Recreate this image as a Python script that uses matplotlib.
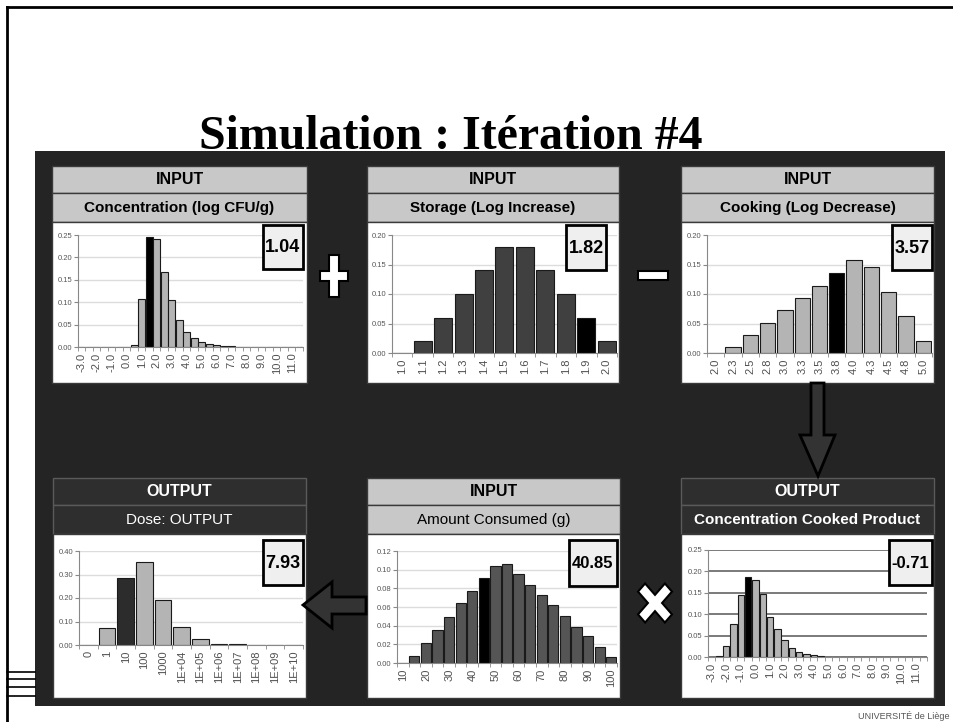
import matplotlib
matplotlib.use('Agg')
import matplotlib.pyplot as plt
from matplotlib.patches import Rectangle, Polygon
from matplotlib.ticker import FormatStrFormatter
import numpy as np

W, H = 954, 722

# histogram of each variable (probability per bin, bins labelled by upper bound)
conc_labels = ['-3.0', '-2.5', '-2.0', '-1.5', '-1.0', '-0.5', '0.0', '0.5', '1.0', '1.5',
               '2.0', '2.5', '3.0', '3.5', '4.0', '4.5', '5.0', '5.5', '6.0', '6.5',
               '7.0', '7.5', '8.0', '8.5', '9.0', '9.5', '10.0', '10.5', '11.0', '11.5']
conc_probs = [0, 0, 0, 0, 0, 0, 0, 0.005, 0.108, 0.245,
              0.240, 0.168, 0.104, 0.060, 0.034, 0.021, 0.011, 0.007, 0.004, 0.002,
              0.0015, 0.0005, 0, 0, 0, 0, 0, 0, 0, 0]

storage_labels = ['1.0', '1.1', '1.2', '1.3', '1.4', '1.5', '1.6', '1.7', '1.8', '1.9', '2.0']
storage_probs = [0, 0.02, 0.06, 0.10, 0.14, 0.18, 0.18, 0.14, 0.10, 0.06, 0.02]

cooking_labels = ['2.0', '2.3', '2.5', '2.8', '3.0', '3.3', '3.5', '3.8', '4.0', '4.3',
                  '4.5', '4.8', '5.0']
cooking_probs = [0, 0.010, 0.030, 0.051, 0.073, 0.094, 0.114, 0.136, 0.157, 0.146,
                 0.104, 0.062, 0.021]

dose_labels = ['0', '1', '10', '100', '1000', '1E+04', '1E+05', '1E+06', '1E+07',
               '1E+08', '1E+09', '1E+10']
dose_probs = [0, 0.071, 0.286, 0.353, 0.191, 0.076, 0.026, 0.006, 0.004, 0.001, 0.0005, 0.0003]

amount_labels = ['10', '15', '20', '25', '30', '35', '40', '45', '50', '55', '60', '65',
                 '70', '75', '80', '85', '90', '95', '100']
amount_probs = [0, 0.0075, 0.0215, 0.035, 0.049, 0.064, 0.077, 0.091, 0.104, 0.106,
                0.095, 0.084, 0.073, 0.062, 0.050, 0.039, 0.029, 0.017, 0.0065]

cooked_labels = conc_labels
cooked_probs = [0, 0.002, 0.025, 0.078, 0.145, 0.1875, 0.180, 0.148, 0.094, 0.065,
                0.039, 0.021, 0.012, 0.007, 0.004, 0.002, 0.001, 0, 0, 0,
                0, 0, 0, 0, 0, 0, 0, 0, 0, 0]

# values drawn at iteration 4 and the bin they fall in
iter_values = ['1.04', '1.82', '3.57', '7.93', '40.85', '-0.71']
iter_bins = [9, 9, 7, 2, 7, 5]

SANS = ['Liberation Sans', 'DejaVu Sans']

panels = [
    dict(x=(52, 307), y=166, kind='INPUT', sub='Concentration (log CFU/g)', subw='bold',
         labels=conc_labels, probs=conc_probs, step=2, ax=(78, 235, 303, 347),
         vbox=(263, 225, 303, 269), ymax=0.25, ystep=0.05, col='#b4b4b4', hi='black',
         grid='#dcdcdc'),
    dict(x=(367, 619), y=166, kind='INPUT', sub='Storage (Log Increase)', subw='bold',
         labels=storage_labels, probs=storage_probs, step=1, ax=(392, 235, 617, 353),
         vbox=(566, 225, 606, 270), ymax=0.20, ystep=0.05, col='#404040', hi='black',
         grid='#dcdcdc'),
    dict(x=(681, 934), y=166, kind='INPUT', sub='Cooking (Log Decrease)', subw='bold',
         labels=cooking_labels, probs=cooking_probs, step=1, ax=(707, 235, 932, 353),
         vbox=(892, 225, 932, 270), ymax=0.20, ystep=0.05, col='#b4b4b4', hi='black',
         grid='#dcdcdc'),
    dict(x=(53, 306), y=478, kind='OUTPUT', sub='Dose: OUTPUT', subw='normal',
         labels=dose_labels, probs=dose_probs, step=1, ax=(79, 551, 303, 645),
         vbox=(263, 540, 303, 585), ymax=0.40, ystep=0.10, col='#b4b4b4', hi='#2c2c2c',
         grid='#dcdcdc'),
    dict(x=(367, 620), y=478, kind='INPUT', sub='Amount Consumed (g)', subw='normal',
         labels=amount_labels, probs=amount_probs, step=2, ax=(397, 551, 617, 663),
         vbox=(569, 540, 617, 586), ymax=0.12, ystep=0.02, col='#555555', hi='black',
         grid='#dcdcdc'),
    dict(x=(681, 934), y=478, kind='OUTPUT', sub='Concentration Cooked Product', subw='bold',
         labels=cooked_labels, probs=cooked_probs, step=2, ax=(708, 550, 927, 657),
         vbox=(889, 540, 932, 585), ymax=0.25, ystep=0.05, col='#b4b4b4', hi='black',
         grid='#707070'),
]


def fig_box(x0, y0, x1, y1):
    return [x0 / W, 1 - y1 / H, (x1 - x0) / W, (y1 - y0) / H]


fig = plt.figure(figsize=(W / 100, H / 100), dpi=100)

bg = fig.add_axes([0, 0, 1, 1], zorder=0)
bg.set_xlim(0, W)
bg.set_ylim(H, 0)
bg.axis('off')

# slide frame
bg.plot([7, 7], [7, H], color='black', lw=2)
bg.plot([7, W], [7, 7], color='black', lw=2)
for yy in (672, 679, 687, 696):
    bg.plot([7, 35], [yy, yy], color='black', lw=1.2)

bg.text(451, 149, 'Simulation : Itération #4', ha='center', va='baseline',
        fontsize=34.5, fontweight='bold', family='Liberation Serif')
bg.text(950, 721, 'UNIVERSITÉ de Liège', ha='right', va='bottom', fontsize=6.5,
        color='#555555', family='Liberation Sans')

bg.add_patch(Rectangle((35, 151), 910, 555, facecolor='#242424', edgecolor='none'))

for p in panels:
    x0, x1 = p['x']
    y0 = p['y']
    if p['kind'] == 'INPUT':
        fc, tc, ec = '#c8c8c8', 'black', '#3a3a3a'
    else:
        fc, tc, ec = '#2e2e2e', 'white', '#5a5a5a'
    bg.add_patch(Rectangle((x0, y0), x1 - x0, 27, facecolor=fc, edgecolor=ec, lw=1))
    bg.add_patch(Rectangle((x0, y0 + 27), x1 - x0, 29, facecolor=fc, edgecolor=ec, lw=1))
    bg.add_patch(Rectangle((x0, y0 + 56), x1 - x0, (383 if y0 < 300 else 698) - y0 - 56,
                           facecolor='white', edgecolor='#3a3a3a', lw=1))
    bg.text((x0 + x1) / 2, y0 + 14, p['kind'], ha='center', va='center', fontsize=11.5,
            fontweight='bold', color=tc, family=SANS)
    bg.text((x0 + x1) / 2, y0 + 42, p['sub'], ha='center', va='center', fontsize=11,
            fontweight=p['subw'], color=tc, family=SANS)

# bar charts
for p, hi_bin in zip(panels, iter_bins):
    ax = fig.add_axes(fig_box(*p['ax']), zorder=1)
    ax.patch.set_visible(False)
    n = len(p['probs'])
    x = np.arange(n)
    colors = [p['hi'] if i == hi_bin else p['col'] for i in range(n)]
    ax.bar(x, p['probs'], width=0.88, color=colors, edgecolor='#1a1a1a', linewidth=0.8)
    ax.set_xlim(-0.5, n - 0.5)
    ax.set_ylim(0, p['ymax'])
    ax.set_yticks(np.arange(0, p['ymax'] + 1e-9, p['ystep']))
    ax.yaxis.set_major_formatter(FormatStrFormatter('%.2f'))
    ax.set_xticks(x[::p['step']])
    ax.set_xticklabels(p['labels'][::p['step']], rotation=90)
    ax.set_xticks(np.arange(n + 1) - 0.5, minor=True)
    ax.tick_params(axis='x', which='major', length=0, pad=4, labelsize=8,
                   labelcolor='#505050')
    ax.tick_params(axis='x', which='minor', length=3, color='#888888')
    ax.tick_params(axis='y', length=3, color='#888888', pad=1, labelsize=5.5,
                   labelcolor='#555555')
    for lab in ax.get_xticklabels() + ax.get_yticklabels():
        lab.set_family('Liberation Sans')
    ax.yaxis.grid(True, color=p['grid'], lw=1.0 if p['grid'] != '#707070' else 1.3)
    ax.set_axisbelow(True)
    for s in ('top', 'right'):
        ax.spines[s].set_visible(False)
    for s in ('left', 'bottom'):
        ax.spines[s].set_color('#888888')
        ax.spines[s].set_linewidth(0.8)

top = fig.add_axes([0, 0, 1, 1], zorder=3)
top.set_xlim(0, W)
top.set_ylim(H, 0)
top.axis('off')

# sampled value of each variable
for p, val in zip(panels, iter_values):
    bx0, by0, bx1, by1 = p['vbox']
    top.add_patch(Rectangle((bx0, by0), bx1 - bx0, by1 - by0, facecolor='#efefef',
                            edgecolor='black', lw=2))
    top.text((bx0 + bx1) / 2, (by0 + by1) / 2 + 1, val, ha='center', va='center',
             fontsize=13 if len(val) < 5 else 12, fontweight='bold', family=SANS)


def cross(cx, cy, hx, hy, t, angle=0.0):
    pts = np.array([(-t, -hy), (t, -hy), (t, -t), (hx, -t), (hx, t), (t, t), (t, hy),
                    (-t, hy), (-t, t), (-hx, t), (-hx, -t), (-t, -t)], dtype=float)
    a = np.deg2rad(angle)
    rot = np.array([[np.cos(a), -np.sin(a)], [np.sin(a), np.cos(a)]])
    pts = pts @ rot.T
    return pts + [cx, cy]


sign_kw = dict(facecolor='white', edgecolor='black', lw=1.5, joinstyle='miter')
top.add_patch(Polygon(cross(334, 276, 14, 21, 5), **sign_kw))
top.add_patch(Rectangle((638, 271), 30, 9, **sign_kw))
xs = cross(0, 0, 19, 19, 5, angle=45)
xs[:, 1] *= 1.15
top.add_patch(Polygon(xs + [655, 603], **sign_kw))

arrow_kw = dict(facecolor='#333333', edgecolor='black', lw=2, joinstyle='miter')
top.add_patch(Polygon([(811, 383), (824, 383), (824, 435), (835, 435), (818, 476),
                       (800, 435), (811, 435)], **arrow_kw))
top.add_patch(Polygon([(366, 597), (332, 597), (332, 582), (303, 605), (332, 628),
                       (332, 614), (366, 614)], **arrow_kw))

fig.savefig('out.png', dpi=100)
